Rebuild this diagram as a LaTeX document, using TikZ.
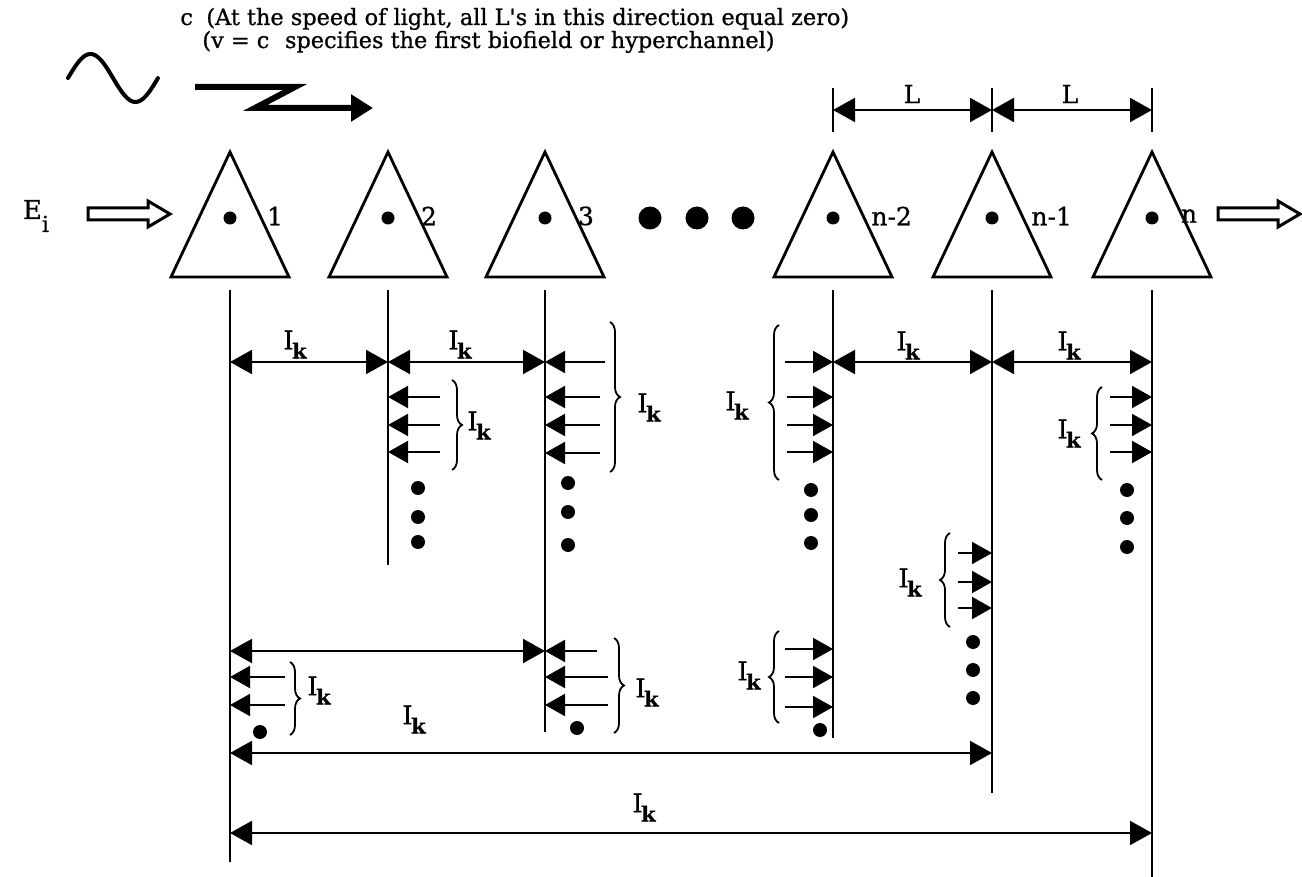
\documentclass[tikz,border=0pt]{standalone}
\usepackage{fontspec}
\setmainfont{DejaVu Serif}
\newfontfamily\heavy[FakeBold=0.8]{DejaVu Serif}
\usetikzlibrary{arrows.meta,decorations.pathreplacing}
\newcommand{\Ik}{{\heavy\fontsize{13}{13}\selectfont I}\kern-0.8pt\raisebox{-4.6pt}{\heavy\fontsize{10.5}{10}\selectfont\bfseries k}}
\begin{document}
\begin{tikzpicture}[x=0.5pt,y=-0.5pt,
  vline/.style={line width=1pt},
  trishape/.style={line width=1.4pt,line join=miter},
  dimarr/.style={line width=1pt,{Triangle[length=11pt,width=12pt]}-{Triangle[length=11pt,width=12pt]}},
  smarr/.style={line width=1pt,-{Triangle[length=10pt,width=11pt]}},
  brc/.style={line width=0.9pt,decorate,decoration={brace,amplitude=5pt}},
  lbl/.style={inner sep=0pt,anchor=north west},
  num/.style={inner sep=0pt,font=\heavy\fontsize{12.5}{12}\selectfont},
  toptext/.style={inner sep=0pt,anchor=base west,font=\heavy\fontsize{11.2}{12}\selectfont},
  hollow/.style={line width=1.5pt,line join=miter}]
\useasboundingbox (0,0) rectangle (1302,877);

% column positions
\coordinate (c1) at (230,0);
\coordinate (c2) at (388,0);
\coordinate (c3) at (545,0);
\coordinate (c4) at (833,0);
\coordinate (c5) at (992,0);
\coordinate (c6) at (1152,0);

% top texts
\node[toptext] (t1) at (180,25) {c\hspace{0.6em}(At the speed of light, all L\textquotesingle s in this direction equal zero)};
\node[toptext] (t2) at (202,48) {(v = c\hspace{0.7em}specifies the first biofield or hyperchannel)};

% sine and Z arrow
\draw[line width=2pt,line cap=round,domain=0:1,samples=60] plot ({68+90*\x},{78-24*sin(360*\x)});
\draw[line width=3pt,line join=miter,-{Triangle[length=11pt,width=13pt]}] (195,87) -- (295,87) -- (255,108) -- (373,108);

% E_i and hollow arrows
\node[inner sep=0pt] (E) at (36,216) {\heavy\fontsize{13}{12}\selectfont E\raisebox{-6.5pt}{\fontsize{11}{10}\selectfont i}};
\draw[hollow] (88,208) -- (148,208) -- (148,201) -- (170,214) -- (148,227) -- (148,220) -- (88,220) -- cycle;
\draw[hollow] (1218,208) -- (1278,208) -- (1278,201) -- (1300,214) -- (1278,227) -- (1278,220) -- (1218,220) -- cycle;

% triangles with dots
\foreach \n in {1,...,6}{
  \draw[trishape] (c\n |- 0,152) -- ++(59,125) -- ++(-118,0) -- cycle;
  \fill (c\n |- 0,218) circle (6.5);
}
\node[num] (n1) at (275,216) {1};
\node[num] (n2) at (429,216) {2};
\node[num] (n3) at (586,216) {3};
\node[num,anchor=west] (n4) at (871,216) {n-2};
\node[num,anchor=west] (n5) at (1031,216) {n-1};
\node[num] (n6) at (1189,216) {n};
\fill (650,218) circle (11.5);
\fill (697,218) circle (11.5);
\fill (743,218) circle (11.5);

% L dimensions
\foreach \n in {4,5,6}{\draw[vline] (c\n |- 0,88) -- (c\n |- 0,132);}
\draw[dimarr] (c4 |- 0,110) -- (c5 |- 0,110);
\draw[dimarr] (c5 |- 0,110) -- (c6 |- 0,110);
\node[num] (L1) at (912,94) {L};
\node[num] (L2) at (1070,94) {L};

% vertical lines
\draw[vline] (c1 |- 0,290) -- (c1 |- 0,862);
\draw[vline] (c2 |- 0,290) -- (c2 |- 0,565);
\draw[vline] (c3 |- 0,290) -- (c3 |- 0,732);
\draw[vline] (c4 |- 0,290) -- (c4 |- 0,738);
\draw[vline] (c5 |- 0,290) -- (c5 |- 0,793);
\draw[vline] (c6 |- 0,290) -- (c6 |- 0,877);

% main row
\draw[dimarr] (c1 |- 0,362) -- (c2 |- 0,362);
\draw[dimarr] (c2 |- 0,362) -- (c3 |- 0,362);
\draw[dimarr] (c4 |- 0,362) -- (c5 |- 0,362);
\draw[dimarr] (c5 |- 0,362) -- (c6 |- 0,362);
\node[lbl] (k1) at (283,330) {\Ik};
\node[lbl] (k2) at (448,330) {\Ik};
\node[lbl] (k3) at (896,331) {\Ik};
\node[lbl] (k4) at (1057,331) {\Ik};

% column at line 2
\foreach \y in {397,425,452}{\draw[smarr] (440,\y) -- (c2 |- 0,\y);}
\draw[brc] (452,380) -- (452,470);
\node[lbl] (k5) at (467,411) {\Ik};
\foreach \y in {488,517,542}{\fill (418,\y) circle (7);}

% column at line 3
\draw[smarr] (605,362) -- (c3 |- 0,362);
\foreach \y in {397,425,453}{\draw[smarr] (600,\y) -- (c3 |- 0,\y);}
\draw[brc] (610,322) -- (610,472);
\node[lbl] (k6) at (637,393) {\Ik};
\foreach \y in {483,512,545}{\fill (568,\y) circle (7);}

% column at line n-2
\draw[smarr] (785,362) -- (c4 |- 0,362);
\foreach \y in {397,425,452}{\draw[smarr] (787,\y) -- (c4 |- 0,\y);}
\draw[brc] (779,480) -- (779,325);
\node[lbl] (k7) at (725,391) {\Ik};
\foreach \y in {490,515,543}{\fill (811,\y) circle (7);}

% column at line n
\foreach \y in {397,425,452}{\draw[smarr] (1110,\y) -- (c6 |- 0,\y);}
\draw[brc] (1102,480) -- (1102,387);
\node[lbl] (k8) at (1057,419) {\Ik};
\foreach \y in {490,518,547}{\fill (1127,\y) circle (7);}

% column at line n-1
\foreach \y in {553,582,608}{\draw[smarr] (958,\y) -- (c5 |- 0,\y);}
\draw[brc] (950,627) -- (950,533);
\node[lbl] (k9) at (898,568) {\Ik};
\foreach \y in {642,670,698}{\fill (973,\y) circle (7);}

% lower section
\draw[dimarr] (c1 |- 0,651) -- (c3 |- 0,651);
\foreach \y in {677,705}{\draw[smarr] (285,\y) -- (c1 |- 0,\y);}
\draw[brc] (290,662) -- (290,735);
\node[lbl] (k10) at (307,676) {\Ik};
\fill (260,732) circle (7);

\draw[smarr] (597,651) -- (c3 |- 0,651);
\foreach \y in {677,705}{\draw[smarr] (608,\y) -- (c3 |- 0,\y);}
\draw[brc] (614,638) -- (614,733);
\node[lbl] (k11) at (635,678) {\Ik};
\fill (577,728) circle (7);

\foreach \y in {649,677,707}{\draw[smarr] (785,\y) -- (c4 |- 0,\y);}
\draw[brc] (779,723) -- (779,631);
\node[lbl] (k12) at (737,661) {\Ik};
\fill (820,730) circle (7);

\draw[dimarr] (c1 |- 0,753) -- (c5 |- 0,753);
\node[lbl] (k13) at (402,705) {\Ik};
\draw[dimarr] (c1 |- 0,833) -- (c6 |- 0,833);
\node[lbl] (k14) at (632,793) {\Ik};
\end{tikzpicture}
\end{document}
